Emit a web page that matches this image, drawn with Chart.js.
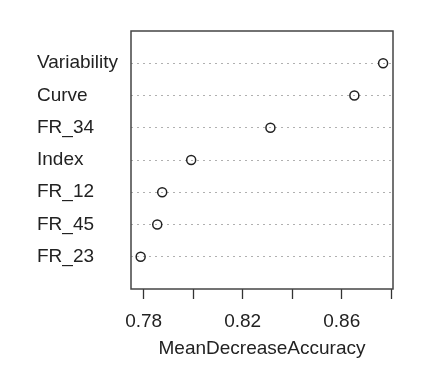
<!DOCTYPE html>
<html>
<head>
<meta charset="utf-8">
<script src="https://cdn.jsdelivr.net/npm/chart.js@4/dist/chart.umd.min.js"></script>
<style>
html,body{margin:0;padding:0;background:#fff;}
canvas{display:block;}
</style>
</head>
<body>
<canvas id="c" width="429" height="390"></canvas>
<script>
// Data (top to bottom as shown)
const categories = ["Variability", "Curve", "FR_34", "Index", "FR_12", "FR_45", "FR_23"];
const meanDecreaseAccuracy = [0.8767, 0.8651, 0.8312, 0.7992, 0.7875, 0.7855, 0.7788];
const xTickValues = [0.78, 0.80, 0.82, 0.84, 0.86, 0.88];
const xTickLabels = ["0.78", "", "0.82", "", "0.86", ""];
const xTitle = "MeanDecreaseAccuracy";

const n = categories.length;
const points = categories.map((c, i) => ({x: meanDecreaseAccuracy[i], y: n - i}));

const FONT = "'Liberation Sans', Arial, Helvetica, sans-serif";
const TXT = '#222';

const boxPlugin = {
  id: 'box',
  afterDraw(chart) {
    const a = chart.chartArea, ctx = chart.ctx;
    ctx.save();
    ctx.strokeStyle = '#444';
    ctx.lineWidth = 1.5;
    ctx.strokeRect(a.left, a.top, a.right - a.left, a.bottom - a.top);
    ctx.restore();
  }
};

new Chart(document.getElementById('c'), {
  type: 'scatter',
  data: {
    datasets: [{
      data: points,
      pointStyle: 'circle',
      pointRadius: 4.5,
      pointBorderWidth: 1.5,
      borderColor: '#222',
      backgroundColor: 'rgba(255,255,255,0)',
      pointHoverRadius: 4.5
    }]
  },
  options: {
    responsive: false,
    animation: false,
    layout: {padding: {left: 37, right: 36, top: 31, bottom: 0}},
    plugins: {legend: {display: false}, tooltip: {enabled: false}},
    scales: {
      x: {
        type: 'linear',
        min: 0.7749,
        max: 0.8807,
        afterBuildTicks: axis => { axis.ticks = xTickValues.map(v => ({value: v})); },
        afterFit: axis => { axis.height = 101; },
        ticks: {
          autoSkip: false,
          maxRotation: 0,
          padding: 11,
          color: TXT,
          font: {family: FONT, size: 19},
          callback: (v, i) => xTickLabels[i]
        },
        grid: {
          drawOnChartArea: false,
          drawTicks: true,
          tickLength: 10,
          tickColor: '#333',
          tickWidth: 1.3
        },
        border: {display: false},
        title: {
          display: true,
          text: xTitle,
          color: TXT,
          font: {family: FONT, size: 19},
          padding: {top: 0, bottom: 30}
        }
      },
      y: {
        type: 'linear',
        min: 0,
        max: n + 1,
        afterBuildTicks: axis => {
          const t = [];
          for (let v = 0; v <= n + 1; v++) t.push({value: v});
          axis.ticks = t;
        },
        afterFit: axis => { axis.width = 94; },
        ticks: {
          crossAlign: 'far',
          padding: 0,
          color: TXT,
          font: {family: FONT, size: 19},
          callback: v => (v >= 1 && v <= n) ? categories[n - v] : ''
        },
        grid: {
          drawTicks: false,
          lineWidth: 1,
          color: ctx => (ctx.tick && ctx.tick.value >= 1 && ctx.tick.value <= n) ? '#b0b0b0' : 'rgba(0,0,0,0)'
        },
        border: {display: false, dash: [2, 4]}
      }
    }
  },
  plugins: [boxPlugin]
});
</script>
</body>
</html>
